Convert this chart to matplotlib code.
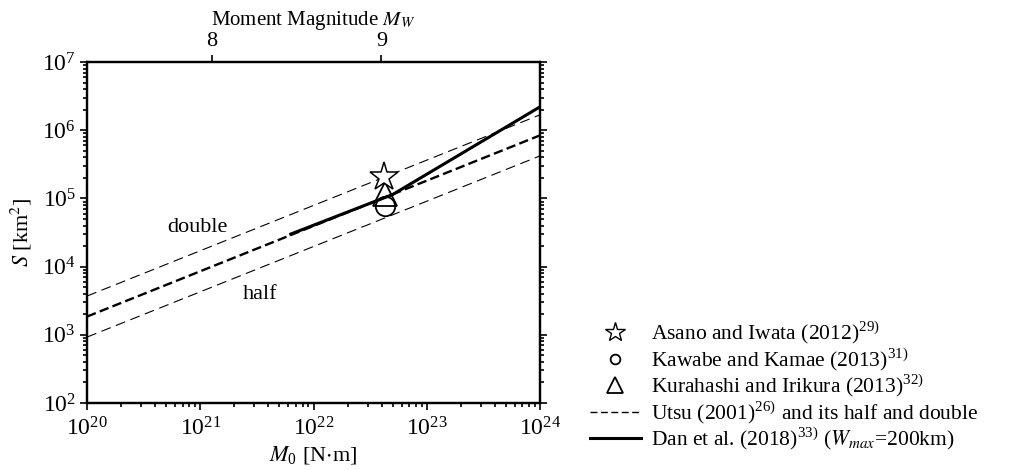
import matplotlib
matplotlib.use("Agg")
import matplotlib.pyplot as plt
import numpy as np
from matplotlib.lines import Line2D
from matplotlib.ticker import FixedLocator, LogLocator, FuncFormatter, NullFormatter

plt.rcParams['font.family'] = ['Liberation Serif', 'DejaVu Serif']
plt.rcParams['mathtext.fontset'] = 'stix'

# Utsu (2001) line and its half / double
utsu_m0 = [1e20, 1e24]
utsu_s = [1.85e3, 8.4e5]
utsu_double = [3.7e3, 1.68e6]
utsu_half = [0.925e3, 4.2e5]

# Dan et al. (2018)
dan_m0 = [6.3e21, 5.0e22, 1e24]
dan_s = [3.0e4, 1.14e5, 2.2e6]

# Observations for 2011 Tohoku
asano = (4.2e22, 2.08e5)
kawabe = (4.3e22, 7.8e4)
kurahashi = (4.25e22, 1.16e5)

mw_ticks = [8, 9]

fig = plt.figure(figsize=(10.3, 4.7), dpi=100)
ax = fig.add_axes([87 / 1030, 1 - 403 / 470, 453 / 1030, 341 / 470])

ax.plot(utsu_m0, utsu_double, color='black', lw=0.8, ls=(0, (9, 5)))
ax.plot(utsu_m0, utsu_half, color='black', lw=0.8, ls=(0, (9, 5)))
ax.plot(utsu_m0, utsu_s, color='black', lw=1.7, ls=(0, (4, 1.8)))
ax.plot(dan_m0, dan_s, '-', color='black', lw=2.2)

ax.plot(*kurahashi, marker='^', ms=17, mfc='none', mec='black', mew=1.3, ls='none')
ax.plot(*kawabe, marker='o', ms=14, mfc='none', mec='black', mew=1.3, ls='none')
ax.plot(*asano, marker='*', ms=21, mfc='white', mec='black', mew=1.1, ls='none')

ax.set_xscale('log')
ax.set_yscale('log')
ax.set_xlim(1e20, 1e24)
ax.set_ylim(1e2, 1e7)

ax.text(9.5e20, 3.7e4, 'double', fontsize=16, ha='center', va='center')
ax.text(3.4e21, 3.9e3, 'half', fontsize=16, ha='center', va='center')

fmt = FuncFormatter(lambda v, p: r'$\mathregular{10^{%d}}$' % int(round(np.log10(v))))
ax.xaxis.set_major_locator(LogLocator(base=10, numticks=10))
ax.yaxis.set_major_locator(LogLocator(base=10, numticks=10))
ax.xaxis.set_major_formatter(fmt)
ax.yaxis.set_major_formatter(fmt)
ax.xaxis.set_minor_locator(LogLocator(base=10, subs=np.arange(2, 10), numticks=10))
ax.yaxis.set_minor_locator(LogLocator(base=10, subs=np.arange(2, 10), numticks=10))
ax.xaxis.set_minor_formatter(NullFormatter())
ax.yaxis.set_minor_formatter(NullFormatter())
ax.tick_params(which='both', direction='out', labelsize=17, right=True, top=False, width=1.2)
ax.tick_params(which='major', length=5)
ax.tick_params(which='minor', length=3)
ax.tick_params(axis='x', which='major', pad=5)
ax.tick_params(axis='y', which='major', pad=3)
for sp in ax.spines.values():
    sp.set_linewidth(1.6)

ax.set_xlabel(r'$\mathit{M}_{\mathregular{0}}$ [N$\cdot$m]', fontsize=16, labelpad=3)
ax.set_ylabel(r'$\mathit{S}$ [km$^{2}$]', fontsize=16, labelpad=6)

# top axis: moment magnitude
m0_of_mw = lambda mw: 10 ** (1.5 * mw + 9.1)
top = ax.twiny()
top.set_xscale('log')
top.set_xlim(ax.get_xlim())
top.xaxis.set_major_locator(FixedLocator([m0_of_mw(m) for m in mw_ticks]))
top.xaxis.set_minor_locator(FixedLocator([]))
top.set_xticklabels([str(m) for m in mw_ticks])
top.tick_params(direction='out', labelsize=16, length=5, width=1.2, pad=3)
top.set_xlabel(r'Moment Magnitude $\mathit{M_W}$', fontsize=15, labelpad=5)
for sp in top.spines.values():
    sp.set_linewidth(1.6)

handles = [
    Line2D([], [], marker='*', ms=15, mfc='white', mec='black', mew=1.0, ls='none'),
    Line2D([], [], marker='o', ms=7, mfc='none', mec='black', mew=1.3, ls='none'),
    Line2D([], [], marker='^', ms=12, mfc='none', mec='black', mew=1.3, ls='none'),
    Line2D([], [], color='black', lw=1.0, ls=(0, (5, 2.5))),
    Line2D([], [], ls='-', color='black', lw=2.2),
]
labels = [
    r'Asano and Iwata (2012)$^{\mathregular{29)}}$',
    r'Kawabe and Kamae (2013)$^{\mathregular{31)}}$',
    r'Kurahashi and Irikura (2013)$^{\mathregular{32)}}$',
    r'Utsu (2001)$^{\mathregular{26)}}$ and its half and double',
    r'Dan et al. (2018)$^{\mathregular{33)}}$ ($\mathit{W_{max}}$=200km)',
]
fig.legend(handles, labels, loc='center left', bbox_to_anchor=(590 / 1030, 1 - 386 / 470),
           frameon=False, fontsize=15.5, handlelength=2.35, handletextpad=0.5,
           labelspacing=0.0, borderaxespad=0.0, borderpad=0.0)

fig.savefig('out.png', dpi=100)
